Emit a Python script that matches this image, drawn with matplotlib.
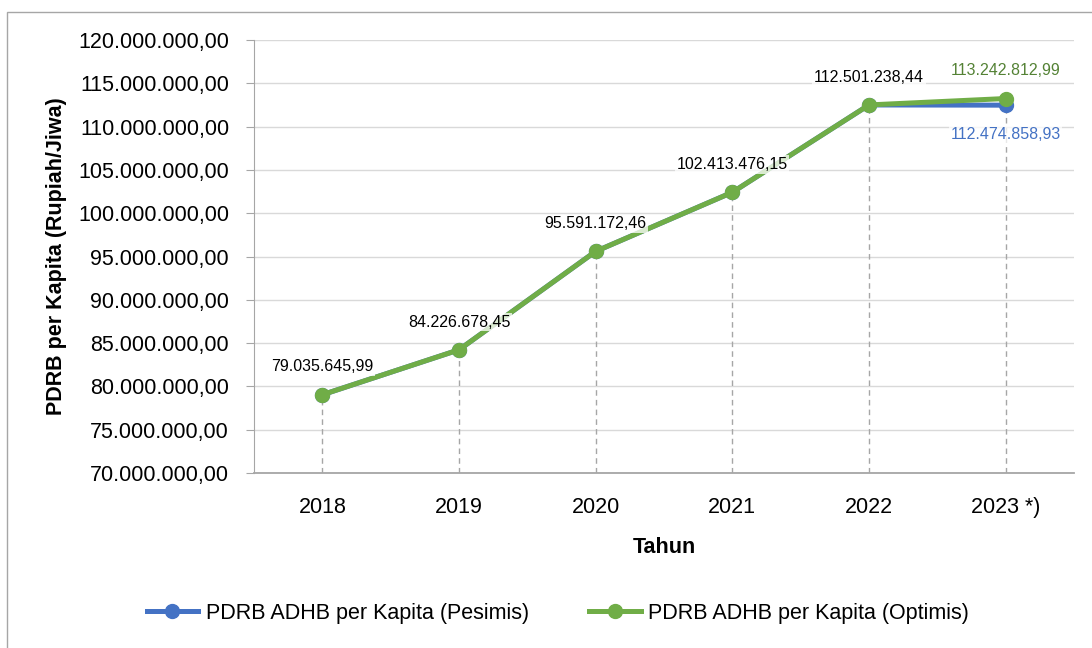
import matplotlib.pyplot as plt
from matplotlib.patches import Rectangle
from matplotlib.ticker import FuncFormatter, MultipleLocator

plt.rcParams['font.family'] = ['Liberation Sans', 'DejaVu Sans']

# Données
tahun = ['2018', '2019', '2020', '2021', '2022', '2023 *)']
pesimis = [79035645.99, 84226678.45, 95591172.46, 102413476.15, 112501238.44, 112474858.93]
optimis = [79035645.99, 84226678.45, 95591172.46, 102413476.15, 112501238.44, 113242812.99]
nama_pesimis = 'PDRB ADHB per Kapita (Pesimis)'
nama_optimis = 'PDRB ADHB per Kapita (Optimis)'

biru = '#4472c4'
hijau = '#70ad47'
abu = '#a6a6a6'


def format_rupiah(v, pos=None):
    '''Format angka gaya Indonesia: 120.000.000,00'''
    s = '{:,.2f}'.format(v)
    return s.replace(',', '#').replace('.', ',').replace('#', '.')


fig = plt.figure(figsize=(10.92, 6.48), dpi=100)
ax = fig.add_axes([254 / 1092, 1 - 473 / 648, (1074 - 254) / 1092, (473 - 40) / 648])

x = list(range(len(tahun)))
ymin, ymax = 70000000, 120000000

# garis putus-putus vertikal
for i in x:
    ax.plot([i, i], [ymin, max(pesimis[i], optimis[i])], ls=(0, (4, 3)), color=abu, lw=1, zorder=1)

ax.plot(x, pesimis, color=biru, lw=3.6, marker='o', ms=10, label=nama_pesimis, zorder=3)
ax.plot(x, optimis, color=hijau, lw=3.6, marker='o', ms=10, label=nama_optimis, zorder=4)

kotak = dict(boxstyle='square,pad=0.1', fc='white', ec='none', alpha=0.75)
for i in x[:-1]:
    ax.annotate(format_rupiah(optimis[i]), (i, optimis[i]), xytext=(0, 20), textcoords='offset points',
                ha='center', va='center', fontsize=11.5, color='black', bbox=kotak, zorder=5)
ax.annotate(format_rupiah(optimis[-1]), (x[-1], optimis[-1]), xytext=(0, 20), textcoords='offset points',
            ha='center', va='center', fontsize=11.5, color='#548235', bbox=kotak, zorder=5)
ax.annotate(format_rupiah(pesimis[-1]), (x[-1], pesimis[-1]), xytext=(0, -21), textcoords='offset points',
            ha='center', va='center', fontsize=11.5, color=biru, bbox=kotak, zorder=5)

ax.set_xlim(-0.5, len(tahun) - 0.5)
ax.set_ylim(ymin, ymax)
ax.yaxis.set_major_locator(MultipleLocator(5000000))
ax.yaxis.set_major_formatter(FuncFormatter(format_rupiah))
ax.set_xticks(x)
ax.set_xticklabels(tahun)
ax.tick_params(axis='x', length=0, labelsize=15.5, pad=17)
ax.tick_params(axis='y', length=6, color=abu, labelsize=15.5, pad=12)
ax.grid(axis='y', color='#d9d9d9', lw=1)
ax.set_axisbelow(True)
for s in ['top', 'right']:
    ax.spines[s].set_visible(False)
ax.spines['left'].set_color(abu)
ax.spines['bottom'].set_color(abu)
ax.spines['bottom'].set_linewidth(1.3)

ax.set_xlabel('Tahun', fontsize=15.5, fontweight='bold', labelpad=14)
ax.set_ylabel('PDRB per Kapita (Rupiah/Jiwa)', fontsize=15.5, fontweight='bold', labelpad=8)

fig.legend(loc='center', bbox_to_anchor=(558 / 1092, 1 - 613 / 648), ncol=2, frameon=False,
           fontsize=15.5, handlelength=2.4, handletextpad=0.35, columnspacing=2.8)

# bingkai luar
fig.add_artist(Rectangle((7 / 1092, -0.1), 2, 0.1 + 636 / 648, transform=fig.transFigure,
                         fill=False, ec=abu, lw=1))

fig.savefig('out.png', dpi=100)
